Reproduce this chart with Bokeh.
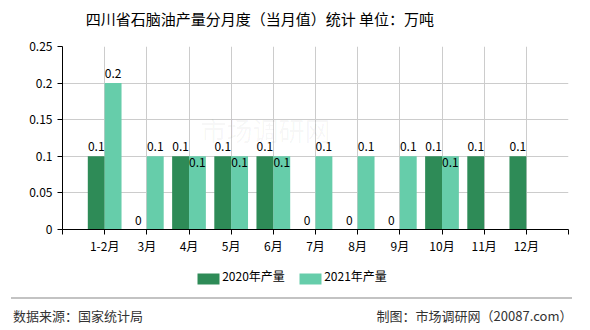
from bokeh.plotting import figure
from bokeh.models import (Range1d, FixedTicker, ColumnDataSource, Label, LinearAxis)
from bokeh.core.properties import value
from bokeh.embed import file_html
from bokeh.resources import INLINE
import math

categories = ["1-2月", "3月", "4月", "5月", "6月", "7月", "8月", "9月", "10月", "11月", "12月"]
y2020 = [0.1, 0, 0.1, 0.1, 0.1, 0, 0, 0, 0.1, 0.1, 0.1]
y2021 = [0.2, 0.1, 0.1, 0.1, 0.1, 0.1, 0.1, 0.1, 0.1, float("nan"), float("nan")]
y_ticks = [0, 0.05, 0.1, 0.15, 0.2, 0.25]
y_tick_labels = ["0", "0.05", "0.1", "0.15", "0.2", "0.25"]
series_names = ["2020年产量", "2021年产量"]
title_text = "四川省石脑油产量分月度（当月值）统计  单位：万吨"
source_text = "数据来源：国家统计局"
credit_text = "制图：市场调研网（20087.com）"

FONT = "Noto Sans CJK SC"
C2020 = "#2E8B57"
C2021 = "#66CDAA"

n = len(categories)
xs = list(range(1, n + 1))

FL, FR, FT, FB = 62, 22, 46, 101
FW, FH = 590 - FL - FR, 330 - FT - FB

def px_x(px):
    # canvas pixel -> x data coordinate (for decorations placed in the border)
    return (px - FL) * (n + 1) / FW

p = figure(frame_width=FW, frame_height=FH, output_backend="svg", toolbar_location=None,
           x_range=Range1d(0, n + 1), y_range=Range1d(0, 0.25),
           min_border_left=FL, min_border_right=FR, min_border_top=FT, min_border_bottom=FB)
p.outline_line_color = None
p.background_fill_color = "white"
p.border_fill_color = "white"

# grid
p.xgrid.ticker = FixedTicker(ticks=list(range(0, n + 2)))
p.ygrid.ticker = FixedTicker(ticks=y_ticks)
for g in (p.xgrid, p.ygrid):
    g.grid_line_color = "#cccccc"
    g.grid_line_width = 1

# axes
p.xaxis.ticker = FixedTicker(ticks=list(range(0, n + 2)))
ov = {i + 1: c for i, c in enumerate(categories)}
ov[0] = ""
ov[n + 1] = ""
p.xaxis.major_label_overrides = ov
p.yaxis.ticker = FixedTicker(ticks=y_ticks)
p.yaxis.major_label_overrides = {t: l for t, l in zip(y_ticks, y_tick_labels)}
for ax in (p.xaxis, p.yaxis):
    ax.axis_line_color = "black"
    ax.major_tick_line_color = "black"
    ax.major_tick_in = 0
    ax.major_tick_out = 5
    ax.minor_tick_line_color = None
    ax.major_label_text_font = FONT
    ax.major_label_text_font_size = "12px"
    ax.major_label_text_color = "black"
p.xaxis.major_label_standoff = 2
p.yaxis.major_label_standoff = 5

def text_axis(ticks, labels, size="12px", color="black", standoff=0):
    # axis used only to place border texts (no line, no tick marks)
    return LinearAxis(ticker=FixedTicker(ticks=ticks),
                      major_label_overrides={t: l for t, l in zip(ticks, labels)},
                      axis_line_color=None, major_tick_line_color=None, minor_tick_line_color=None,
                      major_tick_in=0, major_tick_out=0, major_label_standoff=standoff,
                      major_label_text_font=FONT, major_label_text_color=color,
                      major_label_text_font_size=size)

def mark_axis(pos, color, width, tick_in, tick_out):
    # axis without labels: one wide minor tick drawn as a block / rule
    return LinearAxis(ticker=FixedTicker(ticks=[], minor_ticks=[pos]),
                      axis_line_color=None, major_tick_line_color=None,
                      minor_tick_line_color=color, minor_tick_line_width=width,
                      minor_tick_in=tick_in, minor_tick_out=tick_out, major_label_standoff=0)

# title (text-only axis above the frame)
p.add_layout(text_axis([px_x(261)], [title_text], size="15px", standoff=18), "above")

# watermark
p.add_layout(Label(x=138, y=100, x_units="screen", y_units="screen", text="市场调研网",
                   text_font=FONT, text_font_size="26px", text_color="#000000", text_alpha=0.04,
                   text_baseline="middle", level="underlay"))

xa = [x - 0.2 for x in xs]
xb = [x + 0.2 for x in xs]
src = ColumnDataSource(dict(xa=xa, xb=xb, a=y2020, b=y2021))
r1 = p.vbar(x="xa", top="a", width=0.4, source=src, fill_color=C2020, line_color=None)
r2 = p.vbar(x="xb", top="b", width=0.4, source=src, fill_color=C2021, line_color=None)

def fmt(v):
    return ("%g" % v)

la = ColumnDataSource(dict(x=xa, y=y2020, t=[fmt(v) for v in y2020]))
p.text(x="x", y="y", text="t", source=la, text_align="center", text_baseline="bottom",
       y_offset=-5, text_font=value(FONT), text_font_size="12px", text_color="black")

ax_, ay_, at_, bx_, by_, bt_ = [], [], [], [], [], []
for x, a, b in zip(xb, y2020, y2021):
    if isinstance(b, float) and math.isnan(b):
        continue
    if a == b:
        bx_.append(x); by_.append(b); bt_.append(fmt(b))
    else:
        ax_.append(x); ay_.append(b); at_.append(fmt(b))
p.text(x=ax_, y=ay_, text=at_, text_align="center", text_baseline="bottom",
       y_offset=-5, text_font=value(FONT), text_font_size="12px", text_color="black")
p.text(x=bx_, y=by_, text=bt_, text_align="center", text_baseline="top",
       y_offset=2, text_font=value(FONT), text_font_size="12px", text_color="black")

# legend: labels band, then colour swatches drawn as wide ticks reaching back into it
p.add_layout(text_axis([px_x(253), px_x(355)], series_names, size="12px", standoff=10), "below")
p.add_layout(mark_axis(px_x(207.5), C2020, 22, 13, -2), "below")
p.add_layout(mark_axis(px_x(310), C2021, 22, 13, -2), "below")
# separator rule
p.add_layout(mark_axis(px_x(290.5), "#888888", 561, -11, 12), "below")
# footer texts
p.add_layout(text_axis([px_x(77.5), px_x(474)], [source_text, credit_text], size="13px",
                       color="#333333", standoff=7), "below")

open("out.html", "w").write(file_html(p, INLINE))
